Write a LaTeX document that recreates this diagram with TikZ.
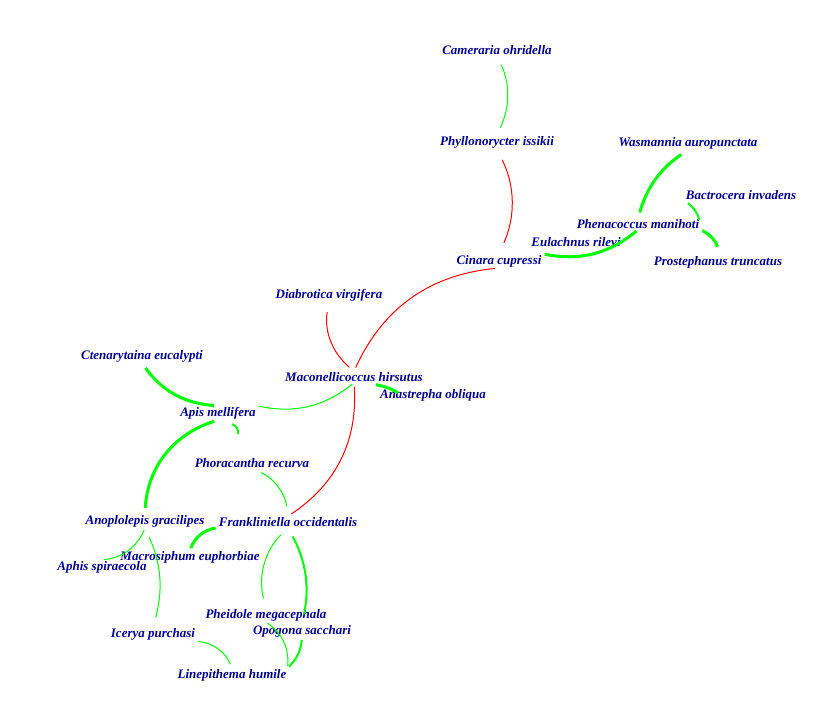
\documentclass[tikz,border=0pt]{standalone}
\usepackage{fontspec}
\setmainfont{Liberation Serif}
\definecolor{labblue}{RGB}{0,0,139}
\definecolor{lgreen}{RGB}{0,255,0}
\tikzset{
	sp/.style={font=\fontsize{13}{15}\selectfont\bfseries\itshape, text=labblue, inner sep=1pt},
	gl/.style={lgreen, line width=1pt},
	gm/.style={lgreen, line width=2pt},
	gt/.style={lgreen, line width=3pt},
	rl/.style={red, line width=1pt},
}
\begin{document}
\begin{tikzpicture}[x=1pt,y=-1pt]
	\useasboundingbox (0,0) rectangle (830,727);
	% species
	\node[sp] (camer) at (497,50) {Cameraria ohridella};
	\node[sp] (phyll) at (497,142) {Phyllonorycter issikii};
	\node[sp] (wasma) at (688,143) {Wasmannia auropunctata};
	\node[sp] (bactr) at (741,195) {Bactrocera invadens};
	\node[sp] (phena) at (638,224) {Phenacoccus manihoti};
	\node[sp] (eulac) at (576,243) {Eulachnus rileyi};
	\node[sp] (cinar) at (499,261) {Cinara cupressi};
	\node[sp] (prost) at (718,262) {Prostephanus truncatus};
	\node[sp] (diabr) at (329,295) {Diabrotica virgifera};
	\node[sp] (ctena) at (142,356) {Ctenarytaina eucalypti};
	\node[sp] (macon) at (354,377) {Maconellicoccus hirsutus};
	\node[sp] (anast) at (433,395) {Anastrepha obliqua};
	\node[sp] (apis) at (218,413) {Apis mellifera};
	\node[sp] (phora) at (252,463) {Phoracantha recurva};
	\node[sp] (anopl) at (145,521) {Anoplolepis gracilipes};
	\node[sp] (frank) at (288,522) {Frankliniella occidentalis};
	\node[sp] (macro) at (190,557) {Macrosiphum euphorbiae};
	\node[sp] (aphis) at (102,567) {Aphis spiraecola};
	\node[sp] (pheid) at (266,615) {Pheidole megacephala};
	\node[sp] (opogo) at (302,631) {Opogona sacchari};
	\node[sp] (icery) at (153,634) {Icerya purchasi};
	\node[sp] (linep) at (232,675) {Linepithema humile};
	% links
	\draw[gl, shorten <=10pt, shorten >=8pt] (camer.south) to[bend left=25] (phyll.north);
	\draw[rl, shorten <=12pt, shorten >=12pt] (phyll.south) to[bend left=25] (cinar.north);
	\draw[gt, shorten <=8pt, shorten >=6pt] (wasma.south) to[bend right=20] (phena.north);
	\draw[gm, shorten <=4pt, shorten >=4pt] (bactr.south west) to[bend left=20] (phena.east);
	\draw[gt, shorten <=8pt, shorten >=2pt] (prost.north) to[bend right=30] (phena.south east);
	\draw[gt, shorten <=2pt, shorten >=2pt] (phena.south) to[bend left=25] (cinar.north east);
	\draw[rl, shorten <=4pt, shorten >=4pt] (cinar.south) to[bend right=30] (macon.north);
	\draw[rl, shorten <=10pt, shorten >=6pt] (diabr.south) to[bend right=30] (macon.north);
	\draw[gt] (macon.south)++(22,2) to[bend left=10] ++(22,8);
	\draw[gl, shorten <=2pt, shorten >=2pt] (macon.south) to[bend left=25] (apis.north east);
	\draw[gt, shorten <=6pt, shorten >=4pt] (ctena.south) to[bend right=25] (apis.north);
	\draw[rl, shorten <=4pt, shorten >=4pt] (macon.south) to[bend left=30] (frank.north);
	\draw[gt, shorten <=4pt, shorten >=6pt] (apis.south) to[bend right=35] (anopl.north);
	\draw[gm] (apis.south)++(14,4) to[bend left=40] ++(6,10);
	\draw[gl, shorten <=10pt, shorten >=10pt] (phora.south) to[bend left=30] (frank.north);
	\draw[gt, shorten <=2pt, shorten >=2pt] (frank.south west) to[bend right=30] (macro.north);
	\draw[gl, shorten <=2pt, shorten >=2pt] (anopl.south) to[bend left=30] (aphis.north);
	\draw[gl, shorten <=10pt, shorten >=10pt] (anopl.south) to[bend left=20] (icery.north);
	\draw[gl, shorten <=10pt, shorten >=10pt] (frank.south) to[bend right=30] (pheid.north);
	\draw[gm, shorten <=10pt, shorten >=10pt] (frank.south) to[bend left=20] (opogo.north);
	\draw[gl, shorten <=2pt, shorten >=4pt] (icery.south east) to[bend left=30] (linep.north);
	\draw[gl, shorten <=2pt, shorten >=2pt] (pheid.south) to[bend left=30] (linep.north east);
	\draw[gm, shorten <=2pt, shorten >=2pt] (opogo.south) to[bend left=20] (linep.north east);
\end{tikzpicture}
\end{document}
